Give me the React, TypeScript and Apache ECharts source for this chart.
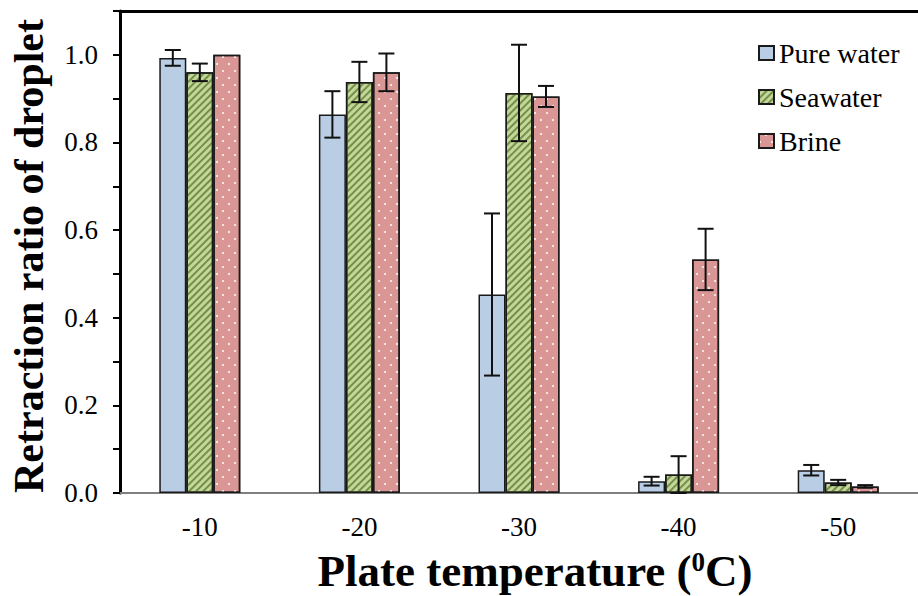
import React, { useEffect, useRef } from 'react';
import * as echarts from 'echarts';

const categories = ['-10', '-20', '-30', '-40', '-50'];
const seriesNames = ['Pure water', 'Seawater', 'Brine'];
const pureWater = [0.993, 0.864, 0.453, 0.027, 0.052];
const pureWaterErr = [0.018, 0.053, 0.185, 0.01, 0.012];
const seawater = [0.96, 0.938, 0.913, 0.042, 0.024];
const seawaterErr = [0.02, 0.046, 0.11, 0.042, 0.006];
const brine = [1.0, 0.96, 0.905, 0.533, 0.015];
const brineErr = [0, 0.043, 0.024, 0.07, 0.003];

const FONT = 'Liberation Serif, Times New Roman, serif';
const BAR_W = 27;

export default function App() {
  const ref = useRef<HTMLDivElement>(null);
  useEffect(() => {
    if (!ref.current) return;
    const chart = echarts.init(ref.current, undefined, { renderer: 'svg' });

    const values = [pureWater, seawater, brine];
    const errs = [pureWaterErr, seawaterErr, brineErr];
    const fills = ['#b9cde5', '#c3d69b', '#d99694'];
    const decals: any[] = [
      undefined,
      {
        symbol: 'rect',
        symbolSize: 1,
        dashArrayX: [1, 0],
        dashArrayY: [1.2, 2.3],
        rotation: -Math.PI / 4,
        color: 'rgba(90,120,40,0.75)',
      },
      {
        symbol: 'circle',
        symbolSize: 1,
        dashArrayX: [[2, 10], [0, 6, 2, 4]],
        dashArrayY: [2, 5],
        rotation: 0,
        color: 'rgba(255,255,255,0.9)',
      },
    ];
    const offsets = [-BAR_W, 0, BAR_W];

    const barSeries = seriesNames.map((name, k) => ({
      name,
      type: 'bar',
      data: values[k],
      barWidth: BAR_W,
      barGap: '0%',
      itemStyle: {
        color: fills[k],
        borderColor: '#1a1a1a',
        borderWidth: 1.5,
        decal: decals[k],
      },
      z: 2,
    }));

    const errSeries = seriesNames.map((name, k) => ({
      name: 'err-' + name,
      type: 'custom',
      z: 5,
      encode: { x: 0, y: [1, 2] },
      data: categories.map((c, i) => [i, values[k][i] - errs[k][i], values[k][i] + errs[k][i]]),
      renderItem: (params: any, api: any) => {
        const xi = api.value(0);
        const lo = api.value(1);
        const hi = api.value(2);
        if (hi - lo <= 0) return { type: 'group', children: [] };
        const pTop = api.coord([xi, hi]);
        const pBot = api.coord([xi, lo]);
        const cx = pTop[0] + offsets[k];
        const hw = 8;
        const st = { stroke: '#111', lineWidth: 2 };
        return {
          type: 'group',
          children: [
            { type: 'line', shape: { x1: cx, y1: pTop[1], x2: cx, y2: pBot[1] }, style: st },
            { type: 'line', shape: { x1: cx - hw, y1: pTop[1], x2: cx + hw, y2: pTop[1] }, style: st },
            { type: 'line', shape: { x1: cx - hw, y1: pBot[1], x2: cx + hw, y2: pBot[1] }, style: st },
          ],
        };
      },
    }));

    chart.setOption({
      animation: false,
      backgroundColor: '#fff',
      textStyle: { fontFamily: FONT },
      grid: { left: 120, top: 11, width: 805, bottom: 103, containLabel: false },
      legend: {
        orient: 'vertical',
        left: 753,
        top: 34,
        data: seriesNames,
        icon: 'rect',
        itemWidth: 15,
        itemHeight: 14,
        itemGap: 16,
        textStyle: { fontSize: 28, fontFamily: FONT, color: '#000' },
      },
      xAxis: [
        {
          type: 'category',
          data: categories,
          axisLine: { lineStyle: { color: '#7f7f7f', width: 2 } },
          axisTick: { show: false },
          axisLabel: { fontSize: 27, fontFamily: FONT, color: '#000', margin: 20 },
          splitLine: { show: false },
        },
        {
          type: 'category',
          data: categories,
          position: 'top',
          axisLine: { lineStyle: { color: '#000', width: 3 } },
          axisTick: { show: false },
          axisLabel: { show: false },
          splitLine: { show: false },
        },
      ],
      yAxis: {
        type: 'value',
        min: 0,
        max: 1.1,
        interval: 0.1,
        axisLine: { show: true, lineStyle: { color: '#000', width: 3 } },
        axisTick: { show: true, inside: false, length: 7, lineStyle: { color: '#000', width: 2 } },
        axisLabel: {
          fontSize: 27,
          fontFamily: FONT,
          color: '#000',
          margin: 22,
          formatter: (v: number) => {
            const t = Math.round(v * 10);
            if (t > 10) return '';
            return t % 2 === 0 ? (t / 10).toFixed(1) : '';
          },
        },
        splitLine: { show: false },
      },
      graphic: [
        {
          type: 'text',
          x: 29,
          y: 256,
          rotation: Math.PI / 2,
          style: {
            text: 'Retraction ratio of droplet',
            fontSize: 42,
            fontWeight: 'bold',
            fontFamily: FONT,
            fill: '#000',
            align: 'center',
            verticalAlign: 'middle',
          },
        },
        {
          type: 'text',
          x: 535,
          y: 571,
          style: {
            text: '{b|Plate temperature (}{s|0}{b|C)}',
            fill: '#000',
            align: 'center',
            verticalAlign: 'middle',
            rich: {
              b: { fontSize: 45, fontWeight: 'bold', fontFamily: FONT, fill: '#000' },
              s: { fontSize: 27, fontWeight: 'bold', fontFamily: FONT, fill: '#000', verticalAlign: 'top' },
            },
          },
        },
      ],
      series: [...barSeries, ...errSeries],
    });
    return () => chart.dispose();
  }, []);
  return <div ref={ref} style={{ width: 918, height: 596, position: 'absolute', left: 0, top: 0 }} />;
}
